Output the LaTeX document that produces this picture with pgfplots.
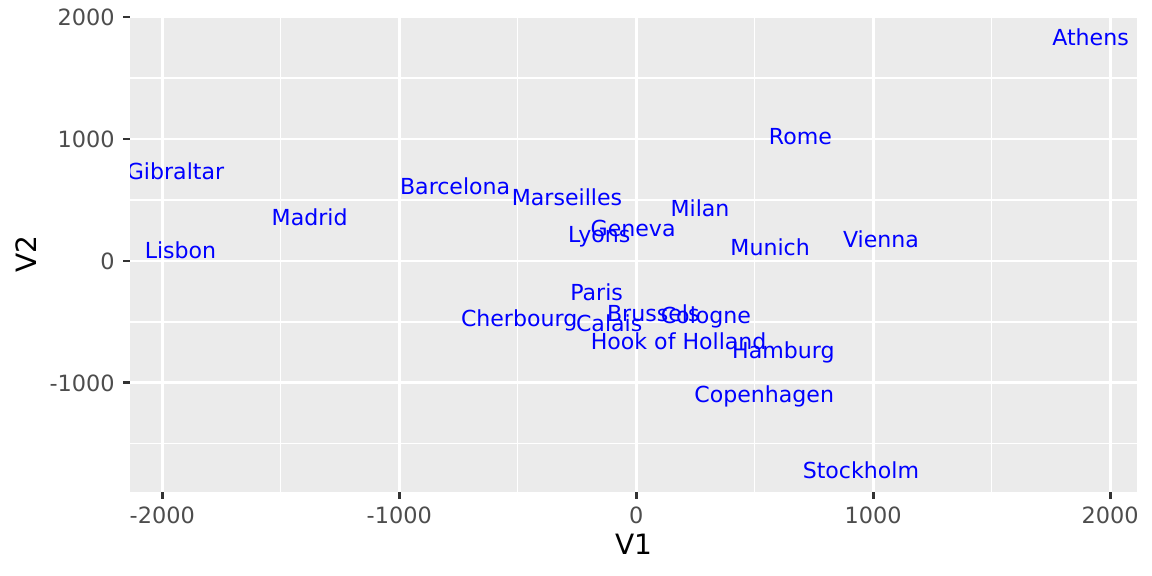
\documentclass[border=0pt]{standalone}
\usepackage{pgfplots}
\usepackage{pgfplotstable}
\pgfplotsset{compat=1.18}
\usepackage{fontspec}
\setmainfont{DejaVu Sans}
\definecolor{gg92}{HTML}{EBEBEB}
\definecolor{gg30}{HTML}{4D4D4D}
\definecolor{gg20}{HTML}{333333}
\pgfplotstableread{
x y label
1917 1832 Athens
-764 610 Barcelona
72 -434 Brussels
-114 -512 Calais
-494 -474 Cherbourg
294 -451 Cologne
540 -1095 Copenhagen
-13 269 Geneva
-1944 731 Gibraltar
621 -734 Hamburg
179 -658 {Hook of Holland}
-1923 89 Lisbon
-156 219 Lyons
-1378 358 Madrid
-292 521 Marseilles
269 431 Milan
565 111 Munich
-167 -257 Paris
693 1022 Rome
948 -1715 Stockholm
1033 177 Vienna
}\eurodata
\begin{document}
\begin{tikzpicture}
\useasboundingbox (0,0) rectangle (576pt,288pt);
\begin{axis}[
  at={(65pt,42pt)}, anchor=south west,
  scale only axis, width=503.5pt, height=238pt,
  xmin=-2136, xmax=2113, ymin=-1895, ymax=2008,
  axis background/.style={fill=gg92},
  axis line style={draw=none},
  clip marker paths=true,
  xtick={-2000,-1000,0,1000,2000},
  xticklabels={-2000,-1000,0,1000,2000},
  ytick={-1000,0,1000,2000},
  yticklabels={-1000,0,1000,2000},
  minor xtick={-1500,-500,500,1500},
  minor ytick={-1500,-500,500,1500},
  grid=both,
  major grid style={white, line width=1.36pt},
  minor grid style={white, line width=0.68pt},
  minor tick length=0pt,
  major tick length=3.5pt,
  tick align=outside,
  xtick pos=bottom, ytick pos=left,
  tick style={gg20, line width=1.36pt},
  ticklabel style={font=\fontsize{11.2}{13}\selectfont, text=gg30, inner sep=0pt, text depth=0pt},
  xticklabel style={anchor=north, yshift=-3.5pt},
  yticklabel style={anchor=east, xshift=-4pt},
  xlabel={V1}, ylabel={V2},
  label style={font=\fontsize{14}{16}\selectfont, inner sep=0pt, text depth=0pt},
  xlabel style={at={(axis description cs:0.5,-0.1107)}, anchor=center},
  ylabel style={at={(axis description cs:-0.1035,0.5)}, anchor=center},
]
\addplot[draw=none, mark=none, nodes near coords, point meta=explicit symbolic,
  every node near coord/.style={anchor=center, inner sep=0pt, text height=8.05pt, text depth=0pt,
    font=\fontsize{11.04}{13}\selectfont, text=blue}]
  table[x=x, y=y, meta=label] {\eurodata};
\end{axis}
\end{tikzpicture}
\end{document}
